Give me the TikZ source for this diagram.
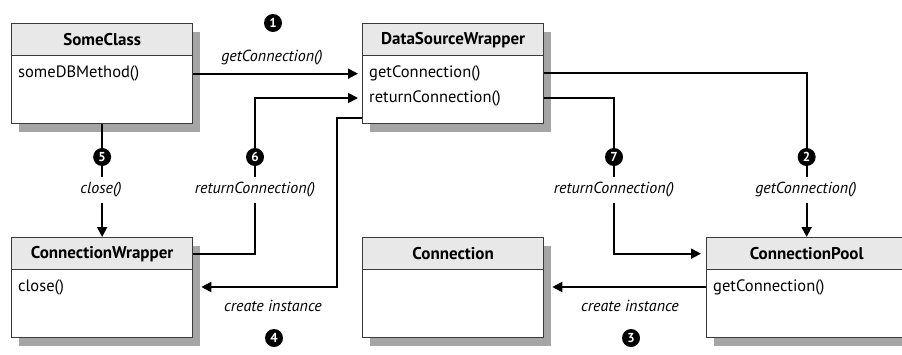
\documentclass[tikz,border=0pt]{standalone}
\usepackage{fontspec}
\setmainfont{PT Sans}
\usetikzlibrary{arrows.meta,calc,positioning}
\definecolor{BoxEdge}{HTML}{3A3A3A}
\definecolor{HeadFill}{HTML}{E8E8E8}
\definecolor{BoxShade}{RGB}{165,165,165}
\tikzset{
  classbox/.style={draw=BoxEdge, line width=1.3pt, fill=white, minimum width=181pt, minimum height=100pt, anchor=north west, inner sep=0pt},
  classhead/.style={draw=BoxEdge, line width=1.3pt, fill=HeadFill, minimum height=32pt, anchor=north, inner sep=0pt, font=\bfseries\fontsize{17}{19}\selectfont},
  method/.style={anchor=west, inner sep=0pt, font=\fontsize{16.5}{18}\selectfont},
  flow/.style={-{Triangle[length=10pt,width=10pt]}, line width=1.8pt},
  flowlabel/.style={fill=white, inner xsep=3pt, inner ysep=6pt, font=\itshape\fontsize{16}{18}\selectfont},
  stepmark/.style={circle, fill=black, text=white, minimum size=18pt, inner sep=0pt, font=\bfseries\fontsize{13}{13}\selectfont},
}
\begin{document}
\begin{tikzpicture}[x=1pt, y=-1pt]
  \useasboundingbox (0,0) rectangle (902,354);

  % class shadows
  \fill[BoxShade] (19,32) rectangle (200,132);
  \fill[BoxShade] (370,32) rectangle (551,132);
  \fill[BoxShade] (19,246) rectangle (200,346);
  \fill[BoxShade] (370,246) rectangle (551,346);
  \fill[BoxShade] (714,246) rectangle (914,346);

  % classes
  \node[classbox] (someclass) at (11,23) {};
  \node[classhead, minimum width=181pt] (someclass head) at (someclass.north) {SomeClass};
  \node[method] (someclass m1) at ($(someclass.north west)+(7,50)$) {someDBMethod()};

  \node[classbox] (dsw) at (362,23) {};
  \node[classhead, minimum width=181pt] (dsw head) at (dsw.north) {DataSourceWrapper};
  \node[method] (dsw m1) at ($(dsw.north west)+(7,50)$) {getConnection()};
  \node[method] (dsw m2) at ($(dsw.north west)+(7,75)$) {returnConnection()};

  \node[classbox] (cwrap) at (11,237) {};
  \node[classhead, minimum width=181pt] (cwrap head) at (cwrap.north) {ConnectionWrapper};
  \node[method] (cwrap m1) at ($(cwrap.north west)+(7,50)$) {close()};

  \node[classbox] (conn) at (362,237) {};
  \node[classhead, minimum width=181pt] (conn head) at (conn.north) {Connection};

  \node[classbox, minimum width=200pt] (cpool) at (706,237) {};
  \node[classhead, minimum width=200pt] (cpool head) at (cpool.north) {ConnectionPool};
  \node[method] (cpool m1) at ($(cpool.north west)+(7,50)$) {getConnection()};

  % bends
  \coordinate (k6) at (255,157);
  \coordinate (k7) at (614,157);
  \coordinate (k4) at (337,287);

  % messages
  \draw[flow, shorten >=4pt] (someclass.east) -- (dsw.west);
  \draw[flow] (dsw.east |- dsw m1) -| (cpool.north);
  \draw[flow, shorten >=8pt] (cpool.west |- k4) -- (conn.east |- k4);
  \draw[flow, shorten >=8pt] ($(dsw.south west)+(0,-6)$) -| (k4) -- (cwrap.east |- k4);
  \draw[flow] (someclass.south) -- (cwrap.north);
  \draw[flow, shorten >=4pt] (cwrap head.east) -| (k6) |- (dsw.west |- dsw m2);
  \draw[flow, shorten >=5pt] (dsw.east |- dsw m2) -| (k7) |- (cpool head.west);

  % labels
  \node[flowlabel] (l1) at (272,58) {getConnection()};
  \node[flowlabel] (l2) at (806,190) {getConnection()};
  \node[flowlabel] (l3) at (630,306) {create instance};
  \node[flowlabel] (l4) at (273,306) {create instance};
  \node[flowlabel] (l5) at (101,190) {close()};
  \node[flowlabel] (l6) at (255,190) {returnConnection()};
  \node[flowlabel] (l7) at (614,190) {returnConnection()};

  % step numbers
  \node[stepmark] (s1) at (273,23) {1};
  \node[stepmark] (s2) at (cpool.north |- k7) {2};
  \node[stepmark] (s3) at (631,338) {3};
  \node[stepmark] (s4) at (274,338) {4};
  \node[stepmark] (s5) at (someclass.south |- k6) {5};
  \node[stepmark] (s6) at (k6) {6};
  \node[stepmark] (s7) at (k7) {7};
\end{tikzpicture}
\end{document}
